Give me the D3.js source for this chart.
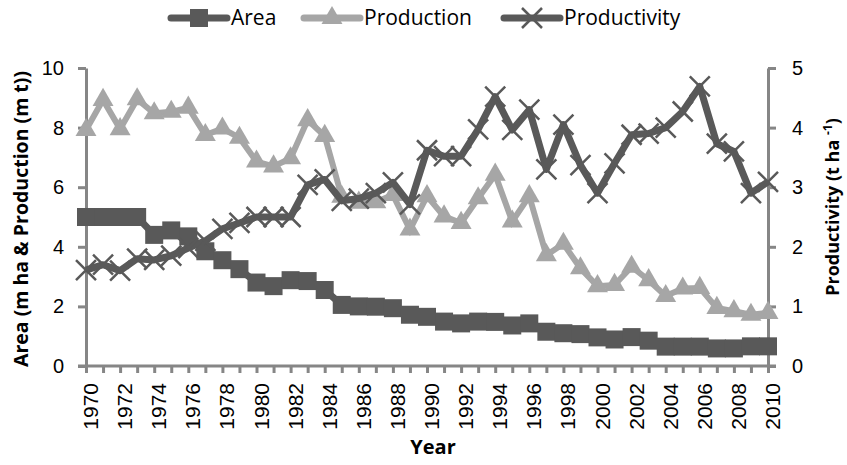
<!DOCTYPE html>
<html>
<head>
<meta charset="utf-8">
<script src="https://cdn.jsdelivr.net/npm/d3@7/dist/d3.min.js"></script>
<style>
  body { margin: 0; background: #fff; }
  svg { font-family: "Open Sans", sans-serif; }
</style>
</head>
<body>
<svg id="chart" width="847" height="465"></svg>
<script>
const years = [1970, 1971, 1972, 1973, 1974, 1975, 1976, 1977, 1978, 1979,
               1980, 1981, 1982, 1983, 1984, 1985, 1986, 1987, 1988, 1989,
               1990, 1991, 1992, 1993, 1994, 1995, 1996, 1997, 1998, 1999,
               2000, 2001, 2002, 2003, 2004, 2005, 2006, 2007, 2008, 2009, 2010];

// m ha
const area = [5.0, 5.0, 5.0, 5.0, 4.4, 4.55, 4.35, 3.85, 3.55, 3.25,
              2.8, 2.68, 2.88, 2.85, 2.55, 2.05, 2.0, 1.99, 1.94, 1.72,
              1.65, 1.49, 1.43, 1.49, 1.48, 1.36, 1.43, 1.15, 1.1, 1.07,
              0.96, 0.89, 0.97, 0.85, 0.65, 0.65, 0.65, 0.59, 0.59, 0.66, 0.66];

// m t
const production = [7.92, 8.93, 7.95, 8.95, 8.48, 8.53, 8.67, 7.75, 7.97, 7.66,
                    6.86, 6.7, 6.97, 8.25, 7.72, 5.68, 5.48, 5.5, 5.74, 4.58,
                    5.7, 5.02, 4.8, 5.63, 6.42, 4.85, 5.7, 3.72, 4.1, 3.28,
                    2.68, 2.72, 3.33, 2.88, 2.35, 2.6, 2.62, 1.95, 1.84, 1.72, 1.78];

// t/ha, right axis
const productivity = [1.61, 1.7, 1.6, 1.8, 1.78, 1.85, 1.98, 2.1, 2.3, 2.4,
                      2.5, 2.5, 2.5, 3.04, 3.13, 2.77, 2.81, 2.9, 3.08, 2.71,
                      3.62, 3.52, 3.52, 3.97, 4.52, 3.96, 4.3, 3.3, 4.05, 3.37,
                      2.9, 3.4, 3.88, 3.9, 4.0, 4.27, 4.69, 3.73, 3.6, 2.9, 3.09];

const leftTicks = [0, 2, 4, 6, 8, 10];
const rightTicks = [0, 1, 2, 3, 4, 5];
const labelYears = years.filter((d, i) => i % 2 === 0);

const dark = "#595959", light = "#a6a6a6", axisCol = "#868686";

const svg = d3.select("#chart");
const m = { left: 86, right: 768, top: 68, bottom: 366 };

const x = d3.scaleLinear().domain([1970, 2010]).range([m.left, m.right]);
const yL = d3.scaleLinear().domain([0, 10]).range([m.bottom, m.top]);
const yR = d3.scaleLinear().domain([0, 5]).range([m.bottom, m.top]);

// axes
const styleAxis = g => {
    g.select(".domain").attr("stroke", axisCol).attr("stroke-width", 3);
    g.selectAll(".tick line").attr("stroke", axisCol).attr("stroke-width", 3);
    g.selectAll("text").attr("fill", "#000");
};

svg.append("g")
    .attr("transform", `translate(${m.left},0)`)
    .call(d3.axisLeft(yL).tickValues(leftTicks).tickSize(8).tickSizeOuter(0).tickPadding(14))
    .call(styleAxis)
    .call(g => g.selectAll("text").attr("font-size", 20));

svg.append("g")
    .attr("transform", `translate(${m.right},0)`)
    .call(d3.axisRight(yR).tickValues(rightTicks).tickFormat(d3.format("d"))
        .tickSize(8).tickSizeOuter(0).tickPadding(16))
    .call(styleAxis)
    .call(g => g.selectAll("text").attr("font-size", 20));

svg.append("g")
    .attr("transform", `translate(0,${m.bottom})`)
    .call(d3.axisBottom(x).tickValues(years).tickSize(7).tickSizeOuter(0)
        .tickFormat(d => labelYears.includes(d) ? d : ""))
    .call(styleAxis)
    .call(g => g.select(".domain").attr("d", `M${m.left - 8},0H${m.right + 8}`))
    .call(g => g.selectAll("text")
        .attr("font-family", "Liberation Sans, Arial, sans-serif")
        .attr("font-size", 21)
        .attr("text-anchor", "end")
        .attr("dy", null)
        .attr("transform", "translate(4,17) rotate(-90)")
        .attr("x", 0).attr("y", 0)
        .attr("dominant-baseline", "central"));

// series
const pts = vals => vals.map((v, i) => [years[i], v]);
const plot = svg.append("g");

const lineL = d3.line().x(d => x(d[0])).y(d => yL(d[1]));
const lineR = d3.line().x(d => x(d[0])).y(d => yR(d[1]));

plot.append("path").datum(pts(area))
    .attr("d", lineL).attr("fill", "none").attr("stroke", dark).attr("stroke-width", 7);
plot.selectAll(".sq").data(pts(area)).join("rect")
    .attr("x", d => x(d[0]) - 9).attr("y", d => yL(d[1]) - 9)
    .attr("width", 18).attr("height", 18).attr("fill", dark);

const tri = d3.symbol().type(d3.symbolTriangle).size(190);
plot.append("path").datum(pts(production))
    .attr("d", lineL).attr("fill", "none").attr("stroke", light).attr("stroke-width", 6);
plot.selectAll(".tri").data(pts(production)).join("path")
    .attr("d", tri)
    .attr("transform", d => `translate(${x(d[0])},${yL(d[1])})`)
    .attr("fill", light);

plot.append("path").datum(pts(productivity))
    .attr("d", lineR).attr("fill", "none").attr("stroke", dark).attr("stroke-width", 7)
    .attr("stroke-linejoin", "round");
plot.selectAll(".cross").data(pts(productivity)).join("path")
    .attr("d", "M-10,-10L10,10M-10,10L10,-10")
    .attr("transform", d => `translate(${x(d[0])},${yR(d[1])})`)
    .attr("stroke", dark).attr("stroke-width", 2.5).attr("fill", "none");

// axis titles
svg.append("text")
    .attr("transform", `translate(28,219) rotate(-90)`)
    .attr("text-anchor", "middle").attr("font-weight", "bold").attr("font-size", 19.5)
    .text("Area (m ha & Production (m t))");

const rt = svg.append("text")
    .attr("transform", `translate(839,207) rotate(-90)`)
    .attr("text-anchor", "middle").attr("font-weight", "bold").attr("font-size", 18);
rt.append("tspan").text("Productivity (t ha ");
rt.append("tspan").attr("font-size", 12).attr("dy", -7).text("-1");
rt.append("tspan").attr("dy", 7).text(")");

svg.append("text")
    .attr("x", 433).attr("y", 454)
    .attr("text-anchor", "middle").attr("font-weight", "bold").attr("font-size", 20)
    .text("Year");

// legend
const legend = [
    { name: "Area", x: 171, color: dark, mark: "square" },
    { name: "Production", x: 304, color: light, mark: "tri" },
    { name: "Productivity", x: 504, color: dark, mark: "cross" }
];
const lg = svg.append("g").selectAll("g").data(legend).join("g")
    .attr("transform", d => `translate(${d.x},18)`);
lg.append("line").attr("x1", 0).attr("x2", 56)
    .attr("stroke", d => d.color).attr("stroke-width", 7).attr("stroke-linecap", "round");
lg.filter(d => d.mark === "square").append("rect")
    .attr("x", 19).attr("y", -9).attr("width", 18).attr("height", 18).attr("fill", dark);
lg.filter(d => d.mark === "tri").append("path")
    .attr("d", tri).attr("transform", "translate(28,0)").attr("fill", light);
lg.filter(d => d.mark === "cross").append("path")
    .attr("d", "M-10,-10L10,10M-10,10L10,-10").attr("transform", "translate(28,0)")
    .attr("stroke", dark).attr("stroke-width", 2.5);
lg.append("text").attr("x", 60).attr("y", 0).attr("dy", "0.35em")
    .attr("font-size", 21).text(d => d.name);
</script>
</body>
</html>
